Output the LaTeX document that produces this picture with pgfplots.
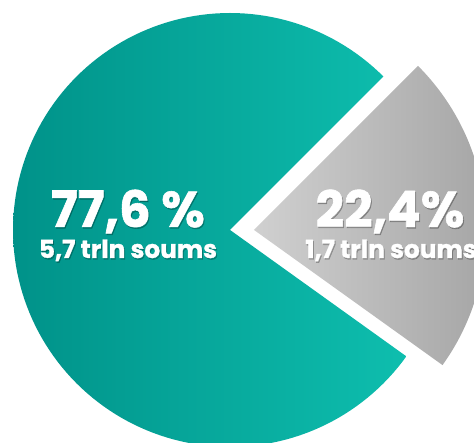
\documentclass[border=0pt]{standalone}
\usepackage{pgfplots}
\pgfplotsset{compat=1.18}
\usepackage{fontspec}
\setmainfont{Poppins}[BoldFeatures={FakeBold=1.2}]
\definecolor{tealL}{RGB}{0,146,137}
\definecolor{tealM}{RGB}{0,167,154}
\definecolor{tealR}{RGB}{14,190,174}
\definecolor{grayL}{RGB}{208,208,208}
\definecolor{grayM}{RGB}{186,186,186}
\definecolor{grayR}{RGB}{166,166,166}
% shares in percent
\def\shareA{77.6}
\def\shareB{22.4}
\tikzset{shadow/.style={text=black, opacity=0.22},
  big/.style={anchor=base, inner sep=0pt, text=white, font=\fontsize{25}{25}\bfseries},
  small/.style={anchor=base, inner sep=0pt, text=white, font=\fontsize{12.4}{13}\bfseries}}
\begin{document}
\begin{tikzpicture}
\pgfmathsetmacro{\angB}{\shareB*3.6}
\pgfmathsetmacro{\angA}{\shareA*3.6}
\pgfmathsetmacro{\startB}{45-\angB}
\pgfmathsetmacro{\endA}{45+\angA}
\begin{axis}[name=ax, scale only axis, width=237pt, height=221.5pt,
  xmin=0, xmax=474, ymin=0, ymax=443, hide axis, clip=true]
% big slice
\addplot[draw=none, left color=tealL, middle color=tealM, right color=tealR,
  domain=45:\endA, samples=150, variable=\u]
  ({230+217*cos(\u)}, {213+217*sin(\u)}) -- (axis cs:230,213) -- cycle;
% exploded slice
\addplot[draw=none, left color=grayL, middle color=grayM, right color=grayR,
  domain=\startB:45, samples=60, variable=\u]
  ({254+232*cos(\u)}, {213+232*sin(\u)}) -- (axis cs:254,213) -- cycle;
\node[big, shadow] at (axis cs:129,214.5) {77,6 \%};
\node[big] at (axis cs:128,216) {77,6 \%};
\node[big, shadow] at (axis cs:391,214.5) {22,4\%};
\node[big] at (axis cs:390,216) {22,4\%};
\node[small, shadow] at (axis cs:129,183.5) {5,7 trln soums};
\node[small] at (axis cs:128,185) {5,7 trln soums};
\node[small, shadow] at (axis cs:392,183.5) {1,7 trln soums};
\node[small] at (axis cs:391,185) {1,7 trln soums};
\end{axis}
\pgfresetboundingbox
\path (ax.south west) rectangle (ax.north east);
\end{tikzpicture}
\end{document}
